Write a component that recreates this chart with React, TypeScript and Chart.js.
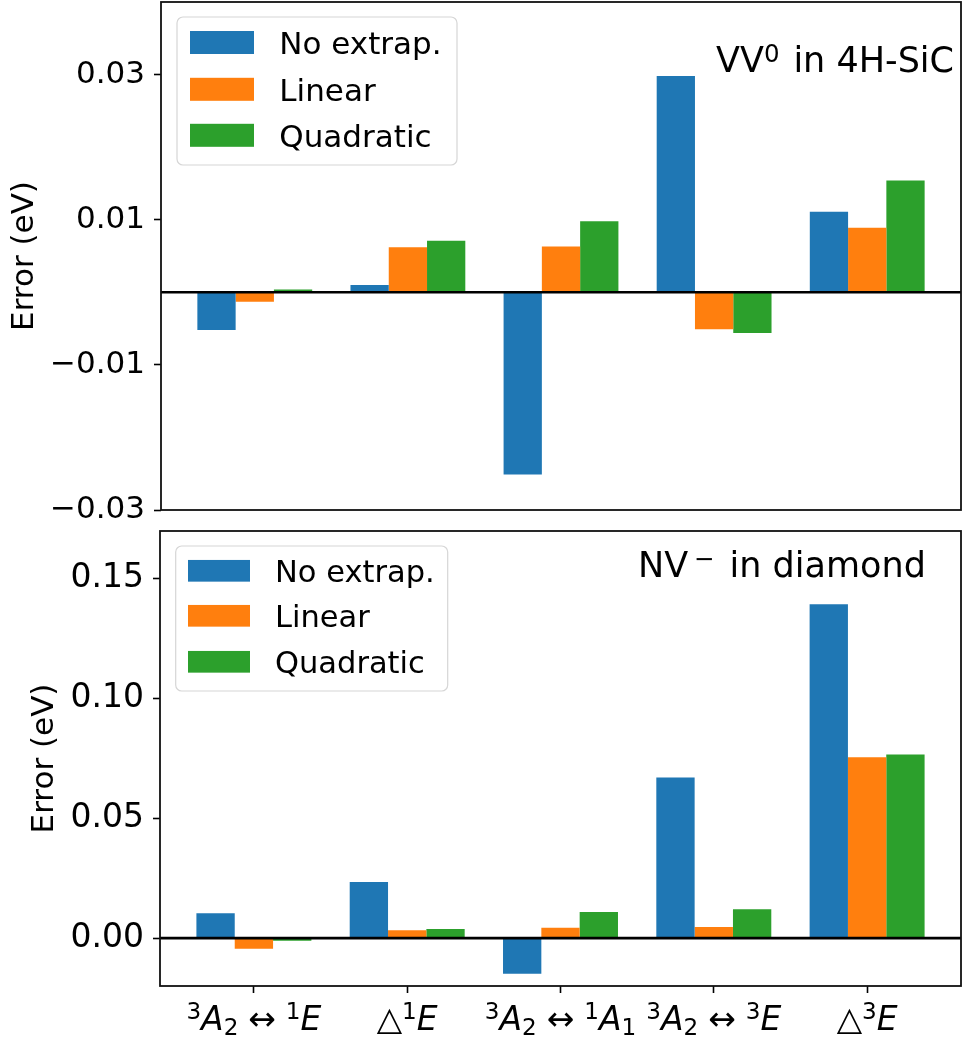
import React, { useEffect, useRef } from 'react';
import { Chart, registerables } from 'chart.js';

Chart.register(...registerables);

// ---------- data ----------
const CATEGORY_POSITIONS = [0, 1, 2, 3, 4];
const SERIES_NAMES = ['No extrap.', 'Linear', 'Quadratic'];
const SERIES_COLORS = ['#1f77b4', '#ff7f0e', '#2ca02c'];

// VV0 in 4H-SiC (top panel)
const VV_NO_EXTRAP = [-0.0052, 0.001, -0.0251, 0.0298, 0.0111];
const VV_LINEAR = [-0.0013, 0.0062, 0.0063, -0.0051, 0.0089];
const VV_QUADRATIC = [0.0004, 0.0071, 0.0098, -0.0056, 0.0154];
const VV_TICKS = [-0.03, -0.01, 0.01, 0.03];
const VV_TICK_LABELS = ['\u22120.03', '\u22120.01', '0.01', '0.03'];

// NV- in diamond (bottom panel)
const NV_NO_EXTRAP = [0.0104, 0.0234, -0.0149, 0.0671, 0.1394];
const NV_LINEAR = [-0.0044, 0.0033, 0.0043, 0.0046, 0.0755];
const NV_QUADRATIC = [-0.0011, 0.0038, 0.0109, 0.0121, 0.0767];
const NV_TICKS = [0, 0.05, 0.1, 0.15];
const NV_TICK_LABELS = ['0.00', '0.05', '0.10', '0.15'];

// ---------- math-like text ----------
type Seg = { t: string; k: 'n' | 'i' | 'sup' | 'sub' | 'rel'; pl?: number; pr?: number };

const X_TICK_LABELS: Seg[][] = [
  [{ t: '3', k: 'sup' }, { t: 'A', k: 'i' }, { t: '2', k: 'sub' }, { t: '\u2194', k: 'rel' }, { t: '1', k: 'sup' }, { t: 'E', k: 'i' }],
  [{ t: '\u25B3', k: 'n' }, { t: '1', k: 'sup' }, { t: 'E', k: 'i' }],
  [{ t: '3', k: 'sup' }, { t: 'A', k: 'i' }, { t: '2', k: 'sub' }, { t: '\u2194', k: 'rel' }, { t: '1', k: 'sup' }, { t: 'A', k: 'i' }, { t: '1', k: 'sub' }],
  [{ t: '3', k: 'sup' }, { t: 'A', k: 'i' }, { t: '2', k: 'sub' }, { t: '\u2194', k: 'rel' }, { t: '3', k: 'sup' }, { t: 'E', k: 'i' }],
  [{ t: '\u25B3', k: 'n' }, { t: '3', k: 'sup' }, { t: 'E', k: 'i' }],
];

const VV_NOTE: Seg[] = [{ t: 'VV', k: 'n' }, { t: '0', k: 'sup', pr: 0.08 }, { t: ' in 4H-SiC', k: 'n' }];
const NV_NOTE: Seg[] = [{ t: 'NV', k: 'n' }, { t: '\u2212', k: 'sup', pl: 0.17, pr: 0.11 }, { t: ' in diamond', k: 'n' }];

const FAMILY = '"DejaVu Sans", "Liberation Sans", sans-serif';

function drawMath(
  ctx: CanvasRenderingContext2D,
  segs: Seg[],
  x: number,
  baseline: number,
  size: number,
  align: 'left' | 'center',
  supRaise: number,
) {
  const items = segs.map((s) => {
    const small = s.k === 'sup' || s.k === 'sub';
    const fs = small ? size * 0.7 : size;
    const font = `${s.k === 'i' ? 'italic ' : ''}${fs}px ${FAMILY}`;
    ctx.font = font;
    const w = ctx.measureText(s.t).width;
    const relPad = s.k === 'rel' ? size * 0.3 : 0;
    const pl = relPad + (s.pl || 0) * size;
    const pr = relPad + (s.pr || 0) * size;
    const dy = s.k === 'sup' ? -size * supRaise : s.k === 'sub' ? size * 0.18 : 0;
    return { s, font, w, pl, pr, dy };
  });
  const total = items.reduce((acc, it) => acc + it.pl + it.w + it.pr, 0);
  let cx = align === 'center' ? x - total / 2 : x;
  ctx.fillStyle = '#000';
  ctx.textAlign = 'left';
  ctx.textBaseline = 'alphabetic';
  for (const it of items) {
    cx += it.pl;
    ctx.font = it.font;
    ctx.fillText(it.s.t, cx, baseline + it.dy);
    cx += it.w + it.pr;
  }
}

// ---------- panels ----------
interface LegendSpec {
  dx: number; dy: number; w: number; h: number;
  hx: number; hw: number; hh: number; rows: number[]; tx: number; font: number;
}
interface Panel {
  series: number[][];
  yMin: number; yMax: number;
  ticks: number[]; tickLabels: string[]; tickFont: number;
  canvasTop: number; canvasHeight: number;
  padding: { top: number; right: number; bottom: number; left: number };
  yAxisWidth: number; xAxisHeight: number; titlePad: number;
  showX: boolean; xLabelDy: number; xLabelFont: number;
  legend: LegendSpec;
  note: { segs: Seg[]; dx: number; dy: number; font: number };
}

const VV_PANEL: Panel = {
  series: [VV_NO_EXTRAP, VV_LINEAR, VV_QUADRATIC],
  yMin: -0.03, yMax: 0.04,
  ticks: VV_TICKS, tickLabels: VV_TICK_LABELS, tickFont: 31,
  canvasTop: 0, canvasHeight: 540,
  padding: { top: 2, right: 1, bottom: 30, left: 0 },
  yAxisWidth: 161, xAxisHeight: 0, titlePad: 6,
  showX: false, xLabelDy: 0, xLabelFont: 33,
  legend: { dx: 16, dy: 15, w: 280, h: 148, hx: 13, hw: 64, hh: 23, rows: [25.5, 72.3, 118.3], tx: 102.3, font: 31 },
  note: { segs: VV_NOTE, dx: 555, dy: 70, font: 35 },
};

const NV_PANEL: Panel = {
  series: [NV_NO_EXTRAP, NV_LINEAR, NV_QUADRATIC],
  yMin: -0.02, yMax: 0.17,
  ticks: NV_TICKS, tickLabels: NV_TICK_LABELS, tickFont: 33,
  canvasTop: 520, canvasHeight: 523,
  padding: { top: 11, right: 1, bottom: 0, left: 0 },
  yAxisWidth: 160, xAxisHeight: 57, titlePad: 26,
  showX: true, xLabelDy: 43.5, xLabelFont: 33,
  legend: { dx: 15.7, dy: 15, w: 272, h: 145, hx: 12.3, hw: 62, hh: 21.7, rows: [24.8, 69.8, 115.8], tx: 99.3, font: 30.5 },
  note: { segs: NV_NOTE, dx: 478, dy: 45.7, font: 35 },
};

function roundRectPath(ctx: CanvasRenderingContext2D, x: number, y: number, w: number, h: number, r: number) {
  ctx.beginPath();
  ctx.moveTo(x + r, y);
  ctx.lineTo(x + w - r, y);
  ctx.arcTo(x + w, y, x + w, y + r, r);
  ctx.lineTo(x + w, y + h - r);
  ctx.arcTo(x + w, y + h, x + w - r, y + h, r);
  ctx.lineTo(x + r, y + h);
  ctx.arcTo(x, y + h, x, y + h - r, r);
  ctx.lineTo(x, y + r);
  ctx.arcTo(x, y, x + r, y, r);
  ctx.closePath();
}

function panelPlugin(p: Panel) {
  return {
    id: 'panelDecor',
    afterDatasetsDraw(chart: any) {
      const { ctx, chartArea: a, scales } = chart;
      ctx.save();
      // zero line
      const y0 = scales.y.getPixelForValue(0);
      ctx.strokeStyle = '#000';
      ctx.lineWidth = 2.6;
      ctx.beginPath();
      ctx.moveTo(a.left, y0);
      ctx.lineTo(a.right, y0);
      ctx.stroke();
      // frame
      ctx.lineWidth = 1.8;
      ctx.strokeStyle = '#111';
      ctx.strokeRect(a.left, a.top, a.right - a.left, a.bottom - a.top);
      // legend
      const L = p.legend;
      const bx = a.left + L.dx;
      const by = a.top + L.dy;
      roundRectPath(ctx, bx, by, L.w, L.h, 6);
      ctx.fillStyle = 'rgba(255,255,255,0.8)';
      ctx.fill();
      ctx.strokeStyle = '#d6d6d6';
      ctx.lineWidth = 1.2;
      ctx.stroke();
      chart.data.datasets.forEach((ds: any, i: number) => {
        const cy = by + L.rows[i];
        ctx.fillStyle = ds.backgroundColor;
        ctx.fillRect(bx + L.hx, cy - L.hh / 2, L.hw, L.hh);
        ctx.fillStyle = '#000';
        ctx.font = `${L.font}px ${FAMILY}`;
        ctx.textAlign = 'left';
        ctx.textBaseline = 'alphabetic';
        ctx.fillText(ds.label, bx + L.tx, cy + (0.729 * L.font) / 2);
      });
      // annotation
      drawMath(ctx, p.note.segs, a.left + p.note.dx, a.top + p.note.dy, p.note.font, 'left', 0.29);
      // x tick labels
      if (p.showX) {
        X_TICK_LABELS.forEach((segs, i) => {
          drawMath(ctx, segs, scales.x.getPixelForValue(CATEGORY_POSITIONS[i]), a.bottom + p.xLabelDy, p.xLabelFont, 'center', 0.33);
        });
      }
      ctx.restore();
    },
  };
}

function makeConfig(p: Panel): any {
  return {
    type: 'bar',
    data: {
      datasets: SERIES_NAMES.map((name, si) => ({
        label: name,
        data: p.series[si].map((v, ci) => ({ x: CATEGORY_POSITIONS[ci], y: v })),
        backgroundColor: SERIES_COLORS[si],
        borderWidth: 0,
        categoryPercentage: 0.75,
        barPercentage: 1.0,
      })),
    },
    options: {
      animation: false,
      responsive: false,
      events: [],
      layout: { padding: p.padding },
      plugins: { legend: { display: false }, tooltip: { enabled: false }, title: { display: false } },
      scales: {
        x: {
          type: 'linear',
          min: -0.6125,
          max: 4.6125,
          offset: false,
          afterBuildTicks: (s: any) => {
            s.ticks = CATEGORY_POSITIONS.map((v) => ({ value: v }));
          },
          ticks: { display: false },
          grid: {
            display: p.showX,
            offset: false,
            drawOnChartArea: false,
            drawTicks: true,
            tickLength: 7,
            tickWidth: 1.6,
            tickColor: '#000',
          },
          border: { display: false },
          afterFit: (s: any) => {
            s.height = p.xAxisHeight;
            s.paddingLeft = 0;
            s.paddingRight = 0;
          },
        },
        y: {
          type: 'linear',
          min: p.yMin,
          max: p.yMax,
          afterBuildTicks: (s: any) => {
            s.ticks = p.ticks.map((v) => ({ value: v }));
          },
          ticks: {
            callback: (_v: any, i: number) => p.tickLabels[i],
            font: { family: FAMILY, size: p.tickFont },
            color: '#000',
            padding: 9,
          },
          grid: {
            drawOnChartArea: false,
            drawTicks: true,
            tickLength: 7,
            tickWidth: 1.6,
            tickColor: '#000',
          },
          border: { display: false },
          title: {
            display: true,
            text: 'Error (eV)',
            color: '#000',
            font: { family: FAMILY, size: 31 },
            padding: { top: p.titlePad, bottom: 0 },
          },
          afterFit: (s: any) => {
            s.width = p.yAxisWidth;
            s.paddingTop = 0;
            s.paddingBottom = 0;
          },
        },
      },
    },
    plugins: [panelPlugin(p)],
  };
}

function PanelChart({ p }: { p: Panel }) {
  const ref = useRef<HTMLCanvasElement>(null);
  useEffect(() => {
    const chart = new Chart(ref.current as HTMLCanvasElement, makeConfig(p));
    return () => chart.destroy();
  }, [p]);
  return (
    <canvas
      ref={ref}
      width={962}
      height={p.canvasHeight}
      style={{ position: 'absolute', left: 0, top: p.canvasTop, width: 962, height: p.canvasHeight }}
    />
  );
}

export default function App() {
  return (
    <div style={{ position: 'absolute', left: 0, top: 0, width: 962, height: 1043, background: '#fff', overflow: 'hidden' }}>
      <PanelChart p={VV_PANEL} />
      <PanelChart p={NV_PANEL} />
    </div>
  );
}
